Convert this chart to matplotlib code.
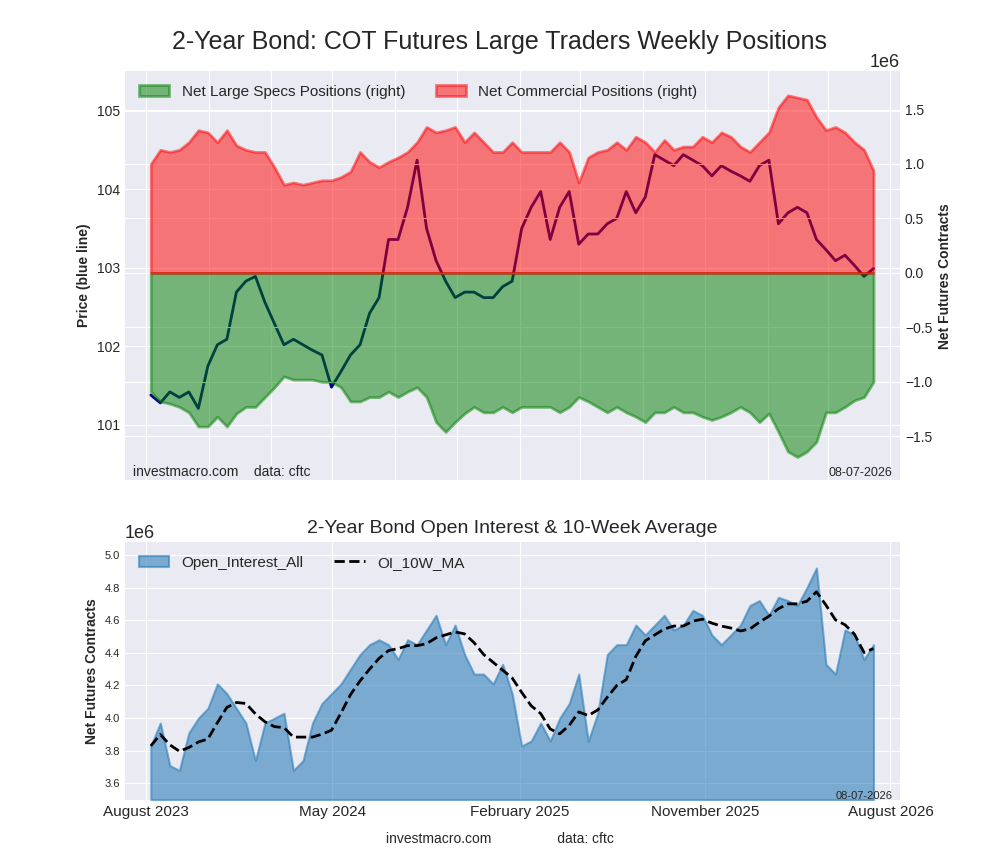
import matplotlib
matplotlib.use("Agg")
import matplotlib.pyplot as plt
import matplotlib.dates as mdates
import numpy as np
import pandas as pd

# biweekly readings, Aug 2023 .. Jul 2026
net_commercial = [1.00, 1.13, 1.11, 1.13, 1.20, 1.31, 1.29, 1.20, 1.31, 1.17, 1.13, 1.11, 1.11, 0.97,
                  0.81, 0.83, 0.81, 0.83, 0.85, 0.85, 0.88, 0.93, 1.11, 1.02, 0.97, 1.02, 1.06, 1.11,
                  1.20, 1.34, 1.29, 1.31, 1.34, 1.20, 1.29, 1.20, 1.11, 1.11, 1.20, 1.11, 1.11, 1.11,
                  1.11, 1.20, 1.11, 0.83, 1.06, 1.11, 1.13, 1.20, 1.13, 1.25, 1.20, 1.11, 1.22, 1.13,
                  1.16, 1.16, 1.25, 1.20, 1.29, 1.25, 1.16, 1.11, 1.20, 1.29, 1.52, 1.63, 1.61, 1.59,
                  1.43, 1.31, 1.34, 1.29, 1.20, 1.13, 0.94]
net_specs = [-1.09, -1.18, -1.20, -1.23, -1.28, -1.41, -1.41, -1.32, -1.41, -1.29, -1.23, -1.23, -1.14,
             -1.05, -0.95, -0.98, -0.98, -0.98, -1.00, -1.00, -1.05, -1.18, -1.18, -1.14, -1.14, -1.09,
             -1.14, -1.09, -1.05, -1.14, -1.37, -1.46, -1.37, -1.29, -1.23, -1.28, -1.28, -1.23, -1.28,
             -1.23, -1.23, -1.23, -1.23, -1.28, -1.23, -1.14, -1.18, -1.23, -1.28, -1.23, -1.28, -1.32,
             -1.37, -1.28, -1.28, -1.23, -1.28, -1.28, -1.32, -1.35, -1.32, -1.28, -1.23, -1.28, -1.37,
             -1.29, -1.46, -1.64, -1.69, -1.64, -1.55, -1.28, -1.28, -1.23, -1.17, -1.14, -1.00]
price = [101.38, 101.28, 101.42, 101.35, 101.42, 101.21, 101.75, 102.02, 102.09, 102.69, 102.83, 102.89,
         102.56, 102.29, 102.02, 102.09, 102.02, 101.95, 101.89, 101.48, 101.68, 101.89, 102.02, 102.42,
         102.62, 103.36, 103.36, 103.77, 104.37, 103.50, 103.09, 102.83, 102.62, 102.69, 102.69, 102.62,
         102.62, 102.76, 102.83, 103.50, 103.77, 103.97, 103.36, 103.77, 103.97, 103.30, 103.43, 103.43,
         103.56, 103.63, 103.97, 103.70, 103.90, 104.44, 104.37, 104.30, 104.44, 104.37, 104.30, 104.17,
         104.30, 104.23, 104.17, 104.10, 104.30, 104.37, 103.56, 103.70, 103.77, 103.70, 103.36, 103.23,
         103.09, 103.16, 103.03, 102.89, 102.99]
open_interest = [3.83, 3.97, 3.71, 3.68, 3.91, 4.00, 4.06, 4.21, 4.15, 4.06, 3.97, 3.74, 3.97, 4.00,
                 4.03, 3.68, 3.74, 3.97, 4.09, 4.15, 4.21, 4.30, 4.39, 4.45, 4.48, 4.45, 4.36, 4.48,
                 4.45, 4.54, 4.63, 4.45, 4.57, 4.39, 4.27, 4.27, 4.21, 4.33, 4.15, 3.83, 3.86, 3.97,
                 3.86, 4.00, 4.09, 4.27, 3.86, 4.03, 4.39, 4.45, 4.45, 4.57, 4.51, 4.57, 4.63, 4.54,
                 4.57, 4.66, 4.63, 4.51, 4.45, 4.51, 4.57, 4.69, 4.72, 4.63, 4.74, 4.72, 4.69, 4.80,
                 4.92, 4.33, 4.27, 4.54, 4.51, 4.36, 4.45]

dates = pd.date_range(end="2026-07-07", periods=len(price), freq="14D")
comm = np.array(net_commercial) * 1e6
specs = np.array(net_specs) * 1e6
oi = pd.Series(np.array(open_interest) * 1e6, index=dates)
oi_ma = oi.rolling(5, min_periods=1).mean()

plt.style.use("seaborn-v0_8-darkgrid")
fig = plt.figure(figsize=(10, 8.6), dpi=100)
fig.suptitle("2-Year Bond: COT Futures Large Traders Weekly Positions", fontsize=18, y=0.965)

ax1 = fig.add_axes([0.125, 0.442, 0.775, 0.475])
ax1.plot(dates, price, color="navy", lw=2)
ax1.set_ylabel("Price (blue line)", fontsize=10, fontweight="bold")
ax1.set_ylim(100.3, 105.5)
ax1.set_yticks([101, 102, 103, 104, 105])
ax1.set_xlim(pd.Timestamp("2023-07-01"), pd.Timestamp("2026-08-15"))
ax1.xaxis.set_major_locator(mdates.MonthLocator(bymonth=[2, 5, 8, 11]))
ax1.tick_params(axis="x", labelbottom=False)

ax2 = ax1.twinx()
ax2.fill_between(dates, specs, 0, color="green", alpha=0.5, lw=2, edgecolor="green",
                 label="Net Large Specs Positions (right)")
ax2.fill_between(dates, comm, 0, color="red", alpha=0.5, lw=2, edgecolor="red",
                 label="Net Commercial Positions (right)")
ax2.set_ylim(-1.9, 1.85)
ax2.set_ylim(-1.9e6, 1.85e6)
ax2.set_ylabel("Net Futures Contracts", fontsize=10, fontweight="bold")
ax2.legend(loc="upper left", ncol=2, fontsize=11, frameon=False)
ax2.yaxis.get_offset_text().set_fontsize(13)
ax1.text(0.01, 0.01, "investmacro.com    data: cftc", transform=ax1.transAxes, fontsize=10)
ax1.text(0.99, 0.01, "08-07-2026", transform=ax1.transAxes, fontsize=9, ha="right")

ax3 = fig.add_axes([0.125, 0.07, 0.775, 0.3])
ax3.fill_between(oi.index, oi.values, 3.5e6, color="#1f77b4", alpha=0.55, lw=1.5,
                 edgecolor="#1f77b4", label="Open_Interest_All")
ax3.plot(oi_ma.index, oi_ma.values, "k--", lw=2, label="OI_10W_MA")
ax3.set_ylim(3.5e6, 5.08e6)
ax3.set_xlim(pd.Timestamp("2023-07-01"), pd.Timestamp("2026-08-15"))
ax3.set_xticks(pd.to_datetime(["2023-08-01", "2024-05-01", "2025-02-01", "2025-11-01", "2026-08-01"]))
ax3.xaxis.set_major_formatter(mdates.DateFormatter("%B %Y"))
ax3.tick_params(axis="x", labelsize=11)
ax3.tick_params(axis="y", labelsize=8)
ax3.set_title("2-Year Bond Open Interest & 10-Week Average", fontsize=14)
ax3.set_ylabel("Net Futures Contracts", fontsize=10, fontweight="bold")
ax3.legend(loc="upper left", ncol=2, fontsize=11, frameon=False)
ax3.yaxis.get_offset_text().set_fontsize(13)
ax3.text(0.99, 0.005, "08-07-2026", transform=ax3.transAxes, fontsize=8, ha="right")
fig.text(0.5, 0.02, "investmacro.com                 data: cftc", ha="center", fontsize=10)

fig.savefig("out.png", dpi=100)
